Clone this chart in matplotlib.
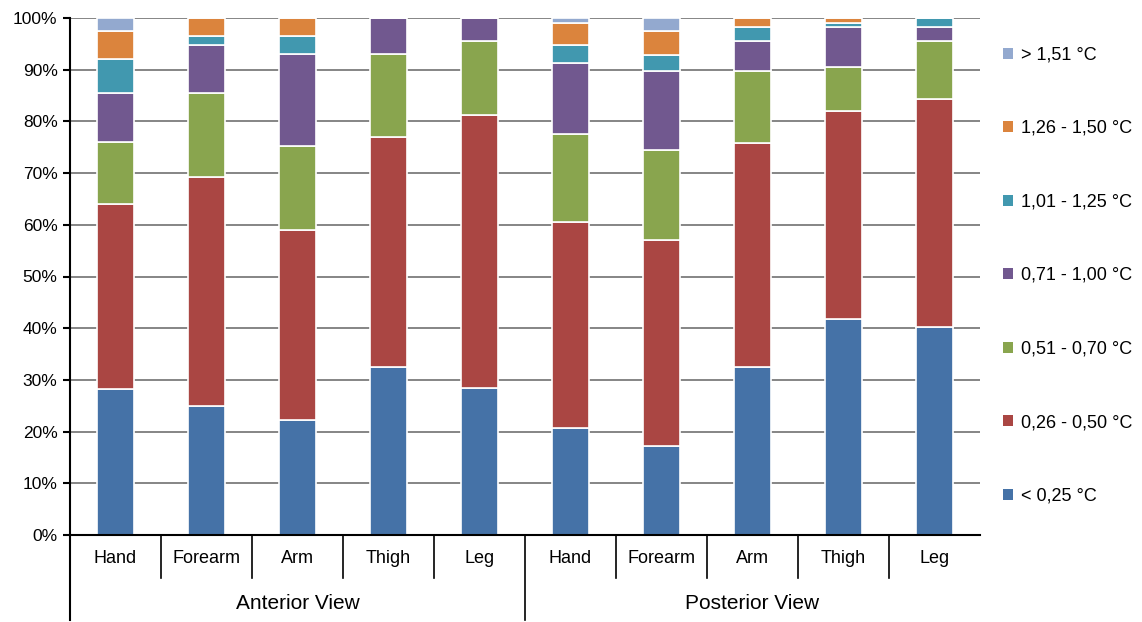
import numpy as np
import matplotlib.pyplot as plt
from matplotlib.patches import Patch
import matplotlib.transforms as mtransforms

plt.rcParams["font.family"] = ["Liberation Sans", "DejaVu Sans"]

parts = ["Hand", "Forearm", "Arm", "Thigh", "Leg"]
views = ["Anterior View", "Posterior View"]

ranges = ["< 0,25 °C", "0,26 - 0,50 °C", "0,51 - 0,70 °C", "0,71 - 1,00 °C",
          "1,01 - 1,25 °C", "1,26 - 1,50 °C", "> 1,51 °C"]
colors = ["#4572A7", "#AA4643", "#89A54E", "#71588F", "#4198AF", "#DB843D", "#93A9CF"]

# share (%) per range, anterior Hand..Leg then posterior Hand..Leg
lt_025 = [28.2, 24.9, 22.2, 32.5, 28.4, 20.7, 17.2, 32.5, 41.8, 40.2]
r_026_050 = [35.8, 44.3, 36.7, 44.5, 52.8, 39.8, 39.9, 43.4, 40.2, 44.2]
r_051_070 = [12.0, 16.3, 16.3, 16.1, 14.3, 17.0, 17.3, 13.8, 8.5, 11.1]
r_071_100 = [9.5, 9.2, 17.9, 6.9, 4.5, 13.8, 15.3, 5.8, 7.7, 2.7]
r_101_125 = [6.6, 1.9, 3.5, 0.0, 0.0, 3.4, 3.2, 2.7, 0.9, 1.8]
r_126_150 = [5.3, 3.4, 3.4, 0.0, 0.0, 4.3, 4.5, 1.8, 0.9, 0.0]
gt_151 = [2.6, 0.0, 0.0, 0.0, 0.0, 1.0, 2.6, 0.0, 0.0, 0.0]

series = [lt_025, r_026_050, r_051_070, r_071_100, r_101_125, r_126_150, gt_151]

fig = plt.figure(figsize=(11.42, 6.22), dpi=100)
ax = fig.add_axes([70 / 1142, 87 / 622, 910 / 1142, 517 / 622])

x = np.arange(len(parts) * len(views))
bottom = np.zeros(len(x))
for vals, col in zip(series, colors):
    vals = np.array(vals)
    ax.bar(x, vals, 0.4, bottom=bottom, color=col, edgecolor="white",
           linewidth=1.2, zorder=3)
    bottom += vals

ax.set_xlim(-0.5, len(x) - 0.5)
ax.set_ylim(0, 100)
ax.set_yticks(np.arange(0, 101, 10))
ax.set_yticklabels([f"{v}%" for v in range(0, 101, 10)], fontsize=12.5)
ax.yaxis.grid(True, color="#858585", linewidth=1.4, zorder=0)
ax.tick_params(axis="y", direction="out", length=5, width=1.5, color="black", pad=4)
ax.set_xticks([])

for side in ["top", "right"]:
    ax.spines[side].set_visible(False)
ax.spines["left"].set_linewidth(1.5)
ax.spines["bottom"].set_linewidth(1.5)
ax.spines["left"].set_zorder(4)
ax.spines["bottom"].set_zorder(4)

# two-level category axis below the plot
trans = mtransforms.blended_transform_factory(ax.transData, ax.transAxes)
for i in range(len(x) - 1):
    pos = i + 0.5
    low = -0.165 if (i + 1) % len(parts) == 0 else -0.084
    ax.plot([pos, pos], [0, low], color="black", lw=1.2, transform=trans, clip_on=False)
ax.plot([-0.5, -0.5], [0, -0.165], color="black", lw=1.5, transform=trans, clip_on=False)

for i in x:
    ax.text(i, -0.0445, parts[i % len(parts)], transform=trans, ha="center",
            va="center", fontsize=13)
for g, name in enumerate(views):
    center = g * len(parts) + (len(parts) - 1) / 2
    ax.text(center, -0.132, name, transform=trans, ha="center", va="center",
            fontsize=15)

handles = [Patch(facecolor=c, edgecolor="none") for c in colors]
fig.legend(handles[::-1], ranges[::-1], loc="center left",
           bbox_to_anchor=(1003 / 1142, 1 - 275.5 / 622), frameon=False,
           fontsize=13, handlelength=0.55, handleheight=0.55, handletextpad=0.45,
           labelspacing=3.13, borderpad=0, borderaxespad=0)

fig.savefig("out.png", dpi=100)
